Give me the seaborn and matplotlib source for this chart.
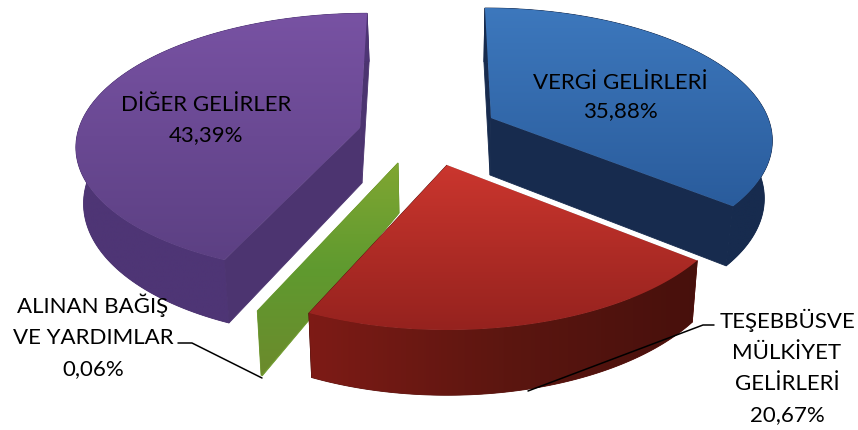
import numpy as np
import matplotlib
matplotlib.use("Agg")
import matplotlib.pyplot as plt
from matplotlib.patches import Polygon
import seaborn as sns

# ---- data ----
categories = ["VERGİ GELİRLERİ", "TEŞEBBÜSVE\nMÜLKİYET\nGELİRLERİ", "ALINAN BAĞIŞ\nVE YARDIMLAR", "DİĞER GELİRLER"]
values = [35.88, 20.67, 0.06, 43.39]

# ---- style / geometry (pixel space) ----
top_cols = [["#3d78bd", "#2a5c9c"], ["#cb362e", "#95221e"], ["#80a632", "#5f9a2f", "#6c8a2c"], ["#7852a3", "#5c4083"]]
wall_cols = [["#172b4e", "#172b4e"], ["#7e1b16", "#5c1610", "#47100c"], ["#6c8a2c", "#6c8a2c"], ["#4e3575", "#4e3575"]]
cut_cols = ["#172b4e", "#5a1510", "#6f9a2e", "#4c3470"]
geom = [
    dict(apex=(491, 118), A=277, B=126.5, k=.15, s=-7, bapex=(490, 175), fa=.975, fb=1.03),
    dict(apex=(447, 165), A=282, B=132, k=.20, s=0, bapex=(447, 222), fa=.98, fb=1.05),
    dict(apex=(398, 163), A=285, B=132, k=.20, s=0, bapex=(399, 213), fa=.98, fb=1.10),
    dict(apex=(360, 128), A=281, B=128.5, k=.12, s=8, bapex=(362, 183), fa=.98, fb=1.06),
]
label_pos = [(620, 97), (787, 367), (93, 336), (206, 120)]
line_gaps = [1.5, 1.7, 1.7, 1.6]
draw_order = [3, 0, 2, 1]

sns.set_theme(style="white")
plt.rcParams["font.family"] = ["Lato", "DejaVu Sans"]

fig = plt.figure(figsize=(8.58, 4.30), dpi=100)
ax = fig.add_axes([0, 0, 1, 1])
ax.set_axis_off()

edges = np.cumsum([0] + values) / sum(values) * 2 * np.pi


def arc(theta, apex, A, B, k, s):
    u, v = np.sin(theta), np.cos(theta)
    w = 1 + k * v
    return np.column_stack([apex[0] + (A * u + s * v) / w, apex[1] - B * v / w])


def gradient_fill(pts, colors, z, horizontal=False):
    poly = Polygon(pts, closed=True, fc="none", ec="none", zorder=z)
    ax.add_patch(poly)
    pts = np.asarray(pts)
    x0, x1, y0, y1 = pts[:, 0].min() - 2, pts[:, 0].max() + 2, pts[:, 1].min() - 1, pts[:, 1].max() + 1
    pal = np.array(sns.blend_palette(colors, n_colors=128))[:, :3]
    grad = pal[None, :, :] if horizontal else pal[:, None, :]
    im = ax.imshow(grad, extent=(x0, x1, y1, y0), aspect="auto", zorder=z, interpolation="bilinear")
    im.set_clip_path(poly)


for n, i in enumerate(draw_order):
    g = geom[i]
    th = np.linspace(edges[i], edges[i + 1], 120)
    top = arc(th, g["apex"], g["A"], g["B"], g["k"], g["s"])
    bot = arc(th, g["bapex"], g["A"] * g["fa"], g["B"] * g["fb"], g["k"], g["s"])
    tapex, bapex = np.array(g["apex"], float), np.array(g["bapex"], float)
    base = n * 3 + 1
    wall = np.vstack([top, bot[::-1]])

    # solid underlay and cut faces
    if i != 2:
        ax.add_patch(Polygon(wall, closed=True, fc=cut_cols[i], ec=cut_cols[i], lw=.6, zorder=base))
    for a, b in ((top[0], bot[0]), (top[-1], bot[-1])):
        ax.add_patch(Polygon([tapex, a, b, bapex], closed=True, fc=cut_cols[i], ec=cut_cols[i], lw=.6, zorder=base))
    if i == 2:
        # thin slice: its cut face carries the gradient
        gradient_fill([tapex, top[-1], bot[-1], bapex], top_cols[i], base + 2)
        continue
    # outer wall, shaded horizontally
    gradient_fill(wall, wall_cols[i], base + 1, horizontal=True)
    # top face, vertical gradient
    gradient_fill(np.vstack([tapex, top]), top_cols[i], base + 2)
    if i == 1:
        ax.plot([tapex[0], top[0, 0]], [tapex[1] - 1, top[0, 1] - 1], color="white", lw=1.4, zorder=base + 2)

ax.set_xlim(0, 858)
ax.set_ylim(430, 0)

# leader lines
ax.plot([178, 192, 262], [343, 343, 378], color="black", lw=1.1, zorder=30)
ax.plot([528, 703, 714], [391, 325, 325], color="black", lw=1.1, zorder=30)

# labels
for name, val, (x, y), gap in zip(categories, values, label_pos, line_gaps):
    txt = f"{name}\n{val:.2f}".replace(".", ",") + "%"
    ax.text(x, y, txt, ha="center", va="center", fontsize=16, color="black", linespacing=gap, zorder=40)

fig.savefig("out.png", dpi=100)
